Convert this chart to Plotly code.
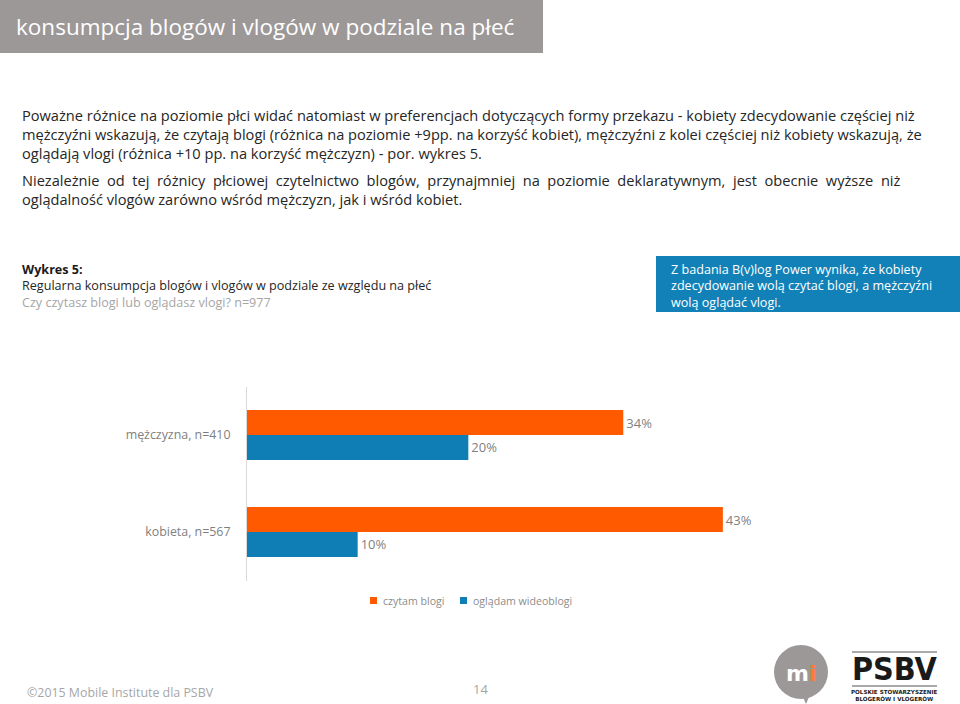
import plotly.graph_objects as go

categories = ["kobieta, n=567", "mężczyzna, n=410"]
series_names = ["czytam blogi", "oglądam wideoblogi"]
blogi = [43, 34]
vlogi = [10, 20]
colors = ["#ff5a00", "#0f7eb4"]

title_text = "konsumpcja blogów i vlogów w podziale na płeć"
para1 = [
    "Poważne różnice na poziomie płci widać natomiast w preferencjach dotyczących formy przekazu - kobiety zdecydowanie częściej niż",
    "mężczyźni wskazują, że czytają blogi (różnica na poziomie +9pp. na korzyść kobiet), mężczyźni z kolei częściej niż kobiety wskazują, że",
    "oglądają vlogi (różnica +10 pp. na korzyść mężczyzn) - por. wykres 5.",
]
para2 = [
    "Niezależnie od tej różnicy płciowej czytelnictwo blogów, przynajmniej na poziomie deklaratywnym, jest obecnie wyższe niż",
    "oglądalność vlogów zarówno wśród mężczyzn, jak i wśród kobiet.",
]
box_lines = [
    "Z badania B(v)log Power wynika, że kobiety",
    "zdecydowanie wolą czytać blogi, a mężczyźni",
    "wolą oglądać vlogi.",
]

W, H = 960, 704
FONT = "Open Sans"


def px(x):
    return x / W


def py(y):
    return 1 - y / H


def widen(line):
    # imitate justified text by widening the gaps between words
    return " \u00a0".join(line.split(" "))


fig = go.Figure()
# blue first so orange sits on top within each group
fig.add_trace(go.Bar(
    y=categories, x=vlogi, name=series_names[1], orientation="h",
    marker=dict(color=colors[1], line=dict(width=0)),
    text=[f"{v}%" for v in vlogi], textposition="outside",
    textfont=dict(color="#7f7f7f", size=13, family=FONT), cliponaxis=False,
    showlegend=False,
))
fig.add_trace(go.Bar(
    y=categories, x=blogi, name=series_names[0], orientation="h",
    marker=dict(color=colors[0], line=dict(width=0)),
    text=[f"{v}%" for v in blogi], textposition="outside",
    textfont=dict(color="#7f7f7f", size=13, family=FONT), cliponaxis=False,
    showlegend=False,
))

annotations = []
shapes = []

# title bar
shapes.append(dict(type="rect", xref="paper", yref="paper", x0=0, x1=px(543), y0=py(53), y1=py(0),
                   fillcolor="#9c9898", line=dict(width=0), layer="below"))
annotations.append(dict(text=title_text, xref="paper", yref="paper", x=px(14), y=py(27),
                        xanchor="left", yanchor="middle", showarrow=False,
                        font=dict(color="white", size=22.5, family=FONT)))

body_font = dict(color="#262626", size=14.6, family=FONT)
annotations.append(dict(text="<br>".join(para1), xref="paper", yref="paper", x=px(20), y=py(134),
                        xanchor="left", yanchor="middle", align="left", showarrow=False, font=body_font))
annotations.append(dict(text="<br>".join([widen(para2[0]), para2[1]]), xref="paper", yref="paper",
                        x=px(20), y=py(189), xanchor="left", yanchor="middle", align="left",
                        showarrow=False, font=body_font))

wyk = ("<b><span style='color:#1a1a1a'>Wykres 5:</span></b><br>"
       "<span style='color:#262626'>Regularna konsumpcja blogów i vlogów w podziale ze względu na płeć</span><br>"
       "<span style='color:#a6a6a6'>Czy czytasz blogi lub oglądasz vlogi? n=977</span>")
annotations.append(dict(text=wyk, xref="paper", yref="paper", x=px(20), y=py(286),
                        xanchor="left", yanchor="middle", align="left", showarrow=False,
                        font=dict(color="#262626", size=12.6, family=FONT)))

# blue info box
shapes.append(dict(type="rect", xref="paper", yref="paper", x0=px(656), x1=px(960), y0=py(312), y1=py(256),
                   fillcolor="#1281b8", line=dict(width=0), layer="below"))
annotations.append(dict(text="<br>".join(box_lines), xref="paper", yref="paper", x=px(669), y=py(286),
                        xanchor="left", yanchor="middle", align="left", showarrow=False,
                        font=dict(color="white", size=12.6, family=FONT)))

# legend (drawn manually to match small square markers)
leg_items = [(370, 381, series_names[0], colors[0]), (460, 471, series_names[1], colors[1])]
for sx, tx, name, col in leg_items:
    shapes.append(dict(type="rect", xref="paper", yref="paper", x0=px(sx), x1=px(sx + 7),
                       y0=py(604), y1=py(597), fillcolor=col, line=dict(width=0)))
    annotations.append(dict(text=name, xref="paper", yref="paper", x=px(tx), y=py(600.5),
                            xanchor="left", yanchor="middle", showarrow=False,
                            font=dict(color="#8c8c8c", size=10.6, family=FONT)))

# footer
annotations.append(dict(text="©2015 Mobile Institute dla PSBV", xref="paper", yref="paper", x=px(25), y=py(692),
                        xanchor="left", yanchor="middle", showarrow=False,
                        font=dict(color="#a6a6a6", size=12.4, family=FONT)))
annotations.append(dict(text="14", xref="paper", yref="paper", x=px(480), y=py(689),
                        xanchor="center", yanchor="middle", showarrow=False,
                        font=dict(color="#a6a6a6", size=13, family=FONT)))

# mi logo
shapes.append(dict(type="circle", xref="paper", yref="paper", x0=px(774), x1=px(828), y0=py(699), y1=py(645),
                   fillcolor="#9c9898", line=dict(width=0)))
shapes.append(dict(type="path", xref="paper", yref="paper",
                   path=f"M {px(800)} {py(690)} L {px(806)} {py(704)} L {px(812)} {py(690)} Z",
                   fillcolor="#9c9898", line=dict(width=0)))
annotations.append(dict(text="<b>m<span style='color:#ff7a2a'>i</span></b>", xref="paper", yref="paper",
                        x=px(801), y=py(673), xanchor="center", yanchor="middle", showarrow=False,
                        font=dict(color="white", size=22, family="DejaVu Sans")))

# PSBV logo
for yy in (652, 686):
    shapes.append(dict(type="line", xref="paper", yref="paper", x0=px(852), x1=px(937), y0=py(yy), y1=py(yy),
                       line=dict(color="#555555", width=1)))
annotations.append(dict(text="<b>PSBV</b>", xref="paper", yref="paper", x=px(894), y=py(669),
                        xanchor="center", yanchor="middle", showarrow=False,
                        font=dict(color="#1a1a1a", size=32, family="DejaVu Sans Condensed")))
annotations.append(dict(text="<b>POLSKIE STOWARZYSZENIE<br>BLOGERÓW I VLOGERÓW</b>", xref="paper", yref="paper",
                        x=px(894), y=py(695), xanchor="center", yanchor="middle", showarrow=False,
                        font=dict(color="#1a1a1a", size=5.6, family="DejaVu Sans")))

fig.update_layout(
    width=W, height=H,
    margin=dict(l=0, r=0, t=0, b=0),
    paper_bgcolor="white", plot_bgcolor="white",
    barmode="group", bargap=0.485, bargroupgap=0,
    font=dict(family=FONT, color="#7f7f7f"),
    xaxis=dict(domain=[px(247), px(911)], range=[0, 60], showgrid=False, showticklabels=False,
               zeroline=False, showline=False, fixedrange=True),
    yaxis=dict(domain=[py(580.5), py(386.5)], range=[-0.5, 1.5], showgrid=False,
               showline=True, linecolor="#d9d9d9", linewidth=1, ticks="",
               tickfont=dict(color="#7f7f7f", size=12.4, family=FONT), ticklabelstandoff=13,
               fixedrange=True),
    showlegend=False,
    annotations=annotations,
    shapes=shapes,
)

fig.write_html("out.html")
